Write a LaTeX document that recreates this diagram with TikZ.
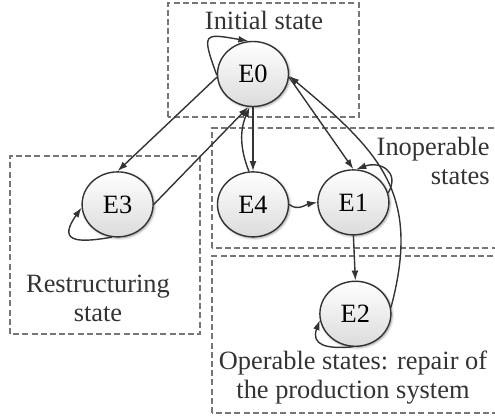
\documentclass[tikz,border=0pt]{standalone}
\usepackage{fontspec}
\setmainfont{Liberation Serif}
\usepackage{tikz}
\usetikzlibrary{positioning,arrows.meta,shapes.geometric,shadows.blur}
\usepackage{xcolor}
\definecolor{edgegray}{HTML}{333333}
\definecolor{boxgray}{HTML}{767676}

\begin{document}
\begin{tikzpicture}[
        x=1pt, y=1pt,
        font=\fontsize{13.2}{14.5}\selectfont,
        state/.style={
            ellipse,
            draw=edgegray,
            line width=0.7pt,
            minimum width=35.5pt,
            minimum height=32.5pt,
            inner sep=0pt,
            top color=white,
            bottom color=black!14,
            blur shadow={shadow blur steps=5, shadow xshift=0.6pt, shadow yshift=-0.6pt, shadow blur radius=1.2pt}
        },
        region/.style={draw=boxgray, line width=0.6pt, dash pattern=on 3pt off 1.6pt},
        regionlabel/.style={text=black!80, inner sep=0pt},
        arr/.style={-{Latex[length=5pt, width=3.4pt]}, line width=0.7pt, edgegray}
    ]
        \useasboundingbox (0,0) rectangle (247.5,208.5);

        % Dashed regions of the state space
        \draw[region] (84,150) rectangle (179.5,207);
        \draw[region] (5,41.5) rectangle (100,130.5);
        \draw[region] (106,84.5) rectangle (260,144.5);
        \draw[region] (106,2) rectangle (260,80.5);

        % Region labels
        \node[regionlabel, anchor=base] (lblinit) at (132,193.5) {Initial state};
        \node[regionlabel, align=right, anchor=east] (lblinop) at (245,128) {Inoperable\\states};
        \node[regionlabel, align=center] (lblrestr) at (49,59.3) {Restructuring\\state};
        \node[regionlabel, align=center] (lblop) at (176.5,19.5) {Operable states: repair of\\the production system};

        % States
        \node[state] (E0) at (126.5,171.5) {E0};
        \node[state, below=32pt of E0] (E4) {E4};
        \node[state, left=31.5pt of E4] (E3) {E3};
        \node[state, right=14pt of E4, yshift=1pt] (E1) {E1};
        \node[state, below=22.5pt of E1, xshift=1pt] (E2) {E2};

        % Transitions
        \draw[arr] (E0.185) -- (E3.north);
        \draw[arr] (E3.east) -- (E0.262);
        \draw[arr] (E0.south) -- (E4.north);
        \draw[arr] (E4.97) to[bend left=22] (E0.264);
        \draw[arr] (E0.-5) -- (E1.north);
        \draw[arr] (E4.east) to[out=-40, in=190] (E1.west);
        \draw[arr] (E1.south) -- (E2.north);
        \draw[arr] (E2.10) to[out=75, in=-40, looseness=1.2] (E0.-3);

        % Self loops
        \draw[arr] (E0.182) to[out=110, in=170, looseness=2.5] (E0.98);
        \draw[arr] (E1.15) to[out=60, in=20, looseness=1.6] (E1.85);
        \draw[arr] (E3.-100) to[out=190, in=235, looseness=2.4] (E3.185);
        \draw[arr] (E2.-95) to[out=185, in=250, looseness=1.6] (E2.190);
    \end{tikzpicture}
\end{document}
